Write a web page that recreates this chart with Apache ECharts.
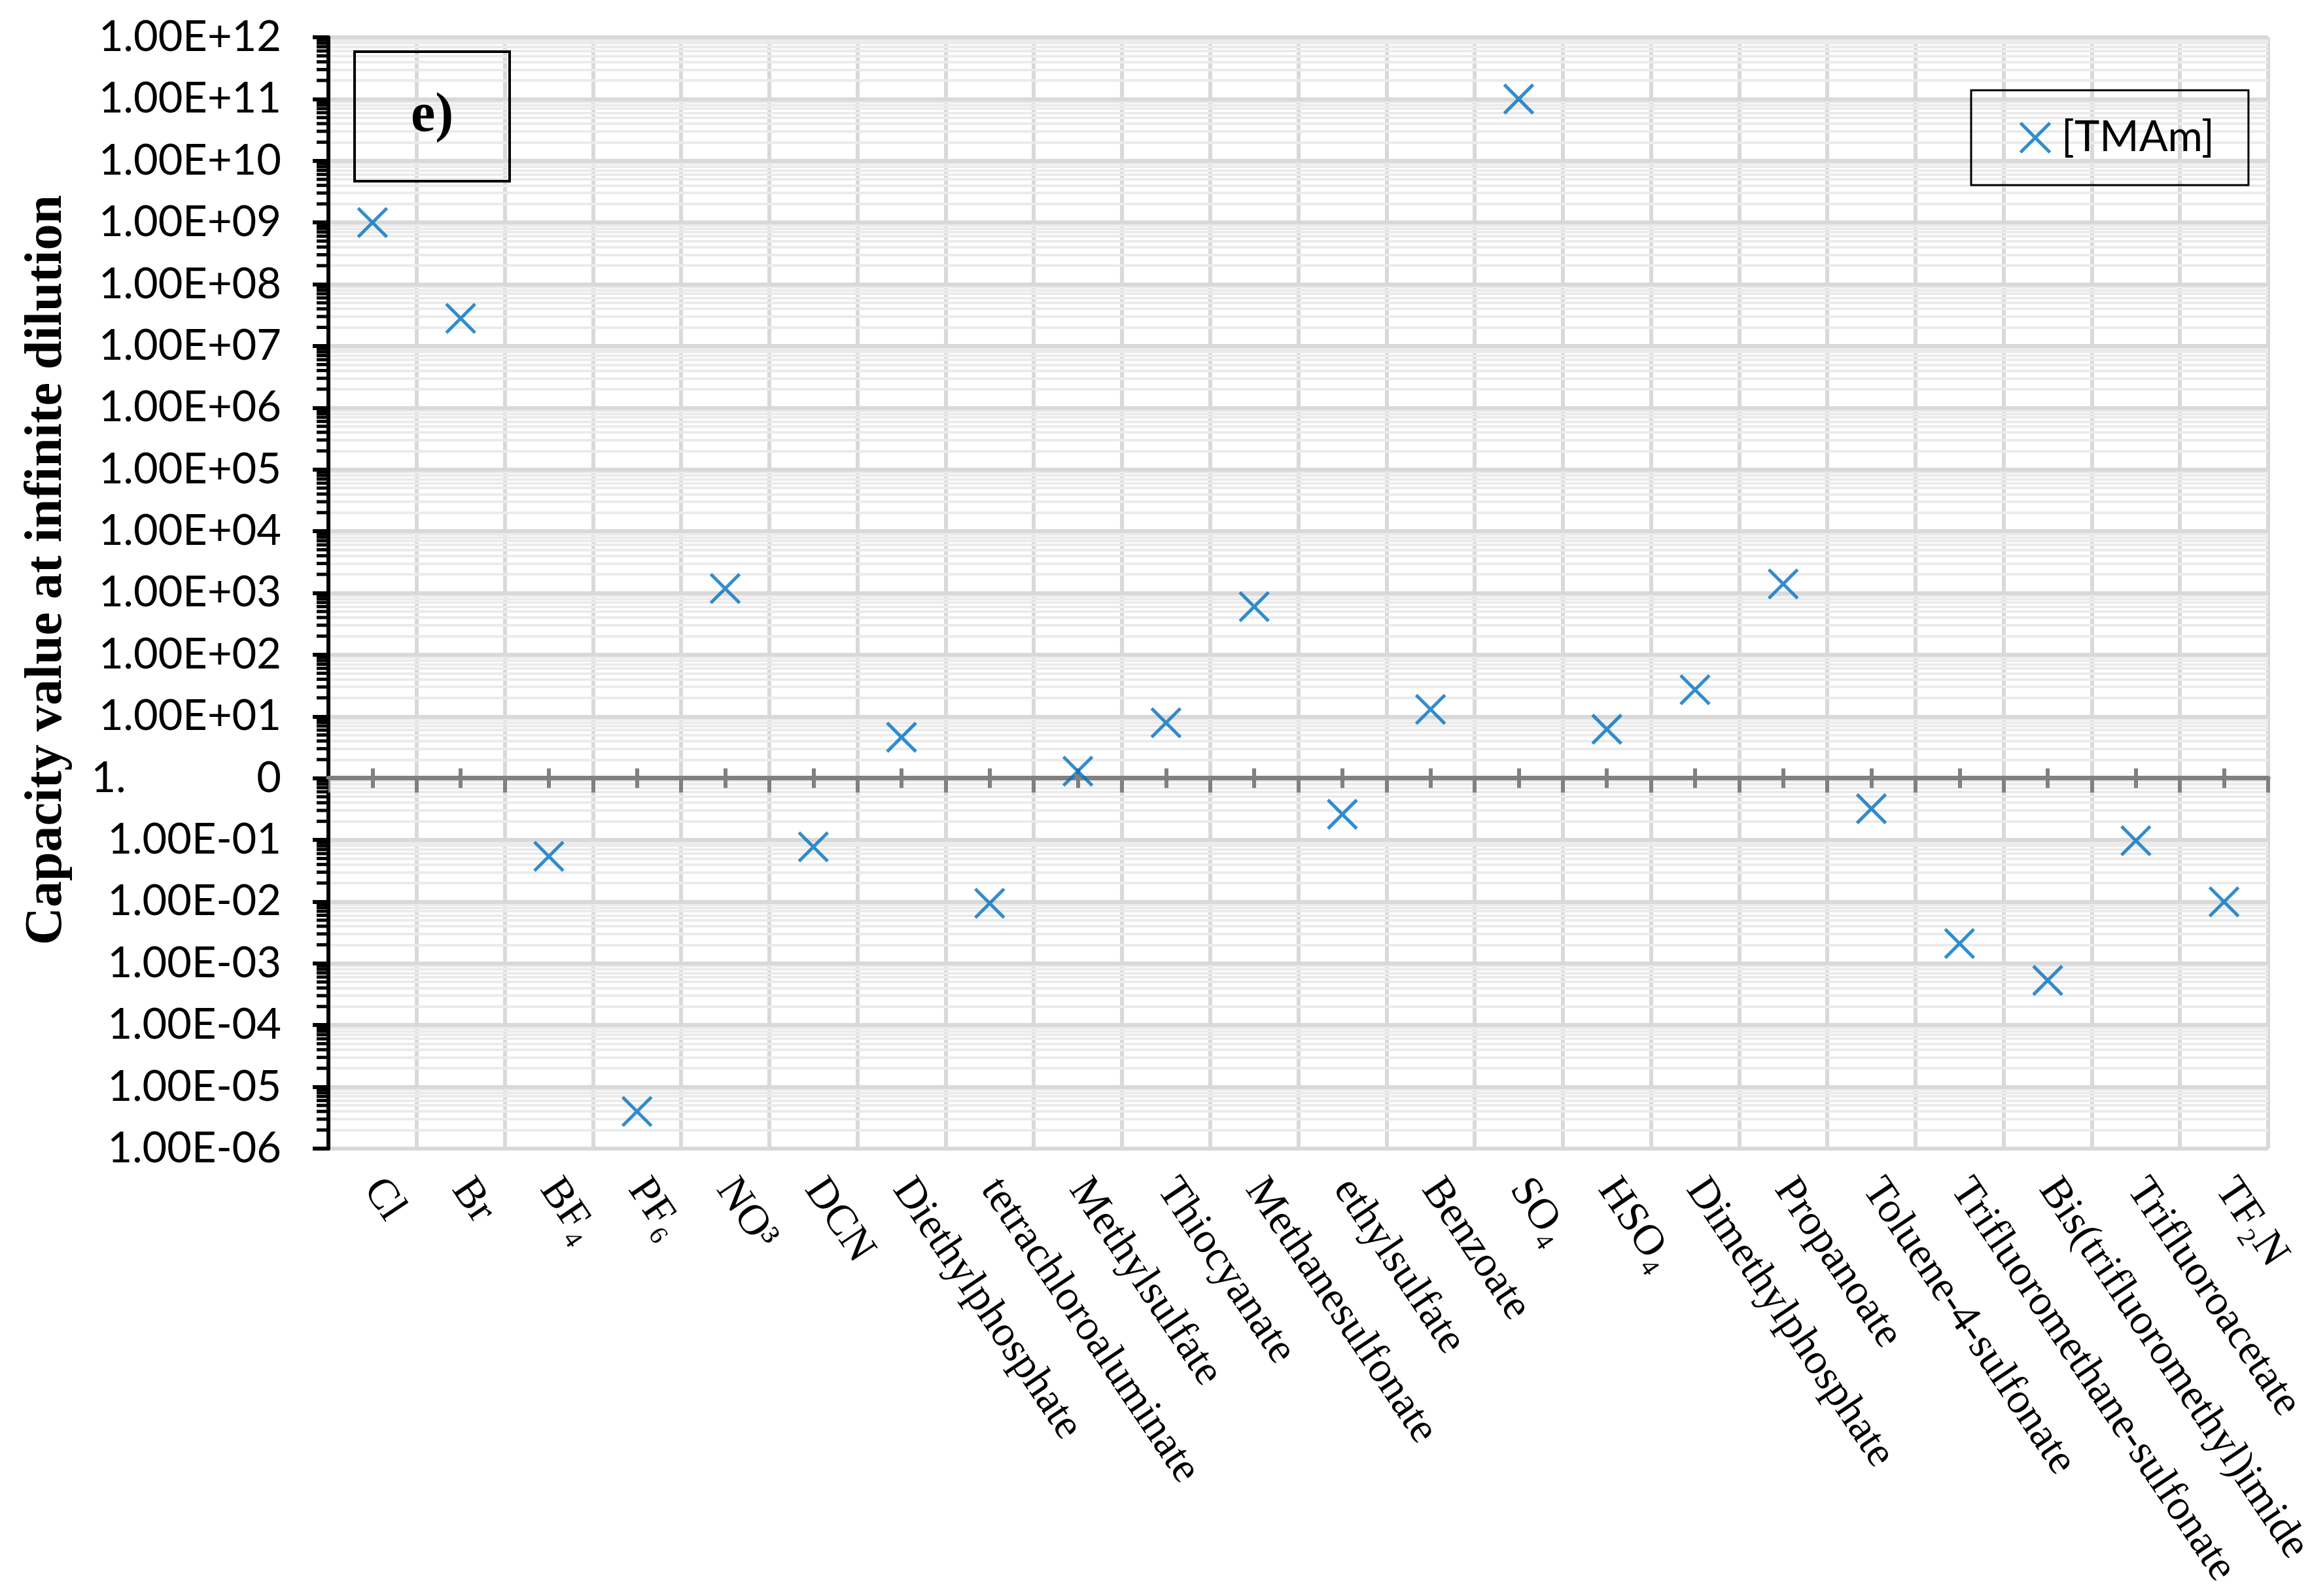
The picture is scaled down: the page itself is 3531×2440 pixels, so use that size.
<!DOCTYPE html>
<html><head><meta charset="utf-8">
<script src="https://cdn.jsdelivr.net/npm/echarts@6/dist/echarts.min.js"></script>
<style>html,body{margin:0;padding:0;background:#fff}#c{width:3531px;height:2440px}</style>
</head><body><div id="c"></div>
<script>
const categories = ['Cl','Br','BF₄','PF₆','NO³','DCN','Diethylphosphate','tetrachloroaluminate','Methylsulfate','Thiocyanate','Methanesulfonate','ethylsulfate','Benzoate','SO₄','HSO₄','Dimethylphosphate','Propanoate','Toluene-4-sulfonate','Trifluoromethane-sulfonate','Bis(trifluoromethyl)imide','Trifluoroacetate','TF₂N'];
const tmamValues = [1.0e9, 2.8e7, 0.054, 4.0e-6, 1180, 0.077, 4.6, 0.0094, 1.3, 7.9, 600, 0.26, 13, 1.0e11, 6.2, 27, 1400, 0.32, 0.0021, 0.00053, 0.097, 0.0099];
const seriesName = '[TMAm]';
const yTickLabels = ['1.00E-06','1.00E-05','1.00E-04','1.00E-03','1.00E-02','1.00E-01','1.            0','1.00E+01','1.00E+02','1.00E+03','1.00E+04','1.00E+05','1.00E+06','1.00E+07','1.00E+08','1.00E+09','1.00E+10','1.00E+11','1.00E+12'];
const yMin = 1e-6, yMax = 1e12, yCross = 1;
const minorMultipliers = [2,3,4,5,6,7,8,9];
const minorTickValues = [];
for (let e = -6; e < 12; e++) minorMultipliers.forEach(k => minorTickValues.push(k * Math.pow(10, e)));

const xPath = 'path://M0,0L10,10M10,0L0,10';
const blue = '#0070C0';
const W = 3531, H = 2440;
const G = {left: 502, right: 64, top: 57, bottom: 684};
const serif = 'Liberation Serif';
const sans = 'Lato';

const chart = echarts.init(document.getElementById('c'), null, {renderer: 'canvas'});

function crossAxis(extra) {
  return Object.assign({
    type: 'category', data: categories, position: 'bottom', boundaryGap: true,
    axisLabel: {show: false}, splitLine: {show: false}, z: 6
  }, extra);
}

function build(offset, minorTickGraphics) {
  return {
    backgroundColor: '#fff',
    animation: false,
    title: {
      text: 'e)', left: 542, top: 81, padding: [57, 86, 57, 86],
      borderColor: '#000', borderWidth: 4,
      textStyle: {fontFamily: serif, fontWeight: 'bold', fontSize: 84, color: '#000', lineHeight: 80}
    },
    legend: {
      data: [{name: seriesName, icon: xPath}],
      left: 3013, top: 138, itemWidth: 70, itemHeight: 45, symbolKeepAspect: true,
      borderColor: '#000', borderWidth: 3, padding: [40, 52, 40, 73],
      textStyle: {fontFamily: sans, fontSize: 65, color: '#000'},
      itemStyle: {color: blue, borderColor: blue, borderWidth: 5}
    },
    grid: Object.assign({outerBoundsMode: 'none', containLabel: false}, G),
    graphic: {elements: minorTickGraphics},
    xAxis: [
      {
        type: 'category', data: categories, position: 'bottom', boundaryGap: true,
        axisLine: {show: false, onZero: false}, axisTick: {show: false},
        splitLine: {show: true, interval: 0, lineStyle: {color: '#d9d9d9', width: 6}},
        axisLabel: {rotate: -56, margin: 52, interval: 0, fontFamily: serif, fontSize: 66, color: '#000'},
        name: 'Anion types', nameLocation: 'middle', nameGap: 528,
        nameTextStyle: {fontFamily: serif, fontWeight: 'bold', fontSize: 80, color: '#000'}
      },
      crossAxis({offset: offset, axisLine: {show: true, onZero: false, lineStyle: {color: '#808080', width: 7}},
        axisTick: {show: true, interval: 0, alignWithLabel: false, inside: false, length: 22, lineStyle: {color: '#808080', width: 6}}}),
      crossAxis({offset: offset, axisLine: {show: false, onZero: false},
        axisTick: {show: true, interval: 0, alignWithLabel: true, inside: true, length: 15, lineStyle: {color: '#808080', width: 6}}}),
      crossAxis({offset: offset, axisLine: {show: false, onZero: false},
        axisTick: {show: true, interval: 0, alignWithLabel: true, inside: false, length: 15, lineStyle: {color: '#808080', width: 6}}})
    ],
    yAxis: [
      {
        type: 'log', logBase: 10, min: yMin, max: yMax, interval: 1, position: 'left',
        axisLine: {show: true, onZero: false, lineStyle: {color: '#000', width: 6}},
        axisTick: {show: true, length: 24, lineStyle: {color: '#000', width: 6}},
        splitLine: {show: true, lineStyle: {color: '#d9d9d9', width: 6}},
        axisLabel: {margin: 72, fontFamily: sans, fontSize: 65, color: '#000',
          formatter: v => yTickLabels[Math.round(Math.log10(v)) + 6]},
        name: 'Capacity value at infinite dilution', nameLocation: 'middle', nameGap: 390,
        nameTextStyle: {fontFamily: serif, fontWeight: 'bold', fontSize: 80, color: '#000', padding: [0, 0, 0, 70]},
        z: 3
      },
      {
        type: 'log', logBase: 10, min: yMin, max: yMax, position: 'left',
        axisLine: {show: false, onZero: false}, axisLabel: {show: false},
        axisTick: {show: false, customValues: minorTickValues},
        splitLine: {show: true, lineStyle: {color: '#ebebeb', width: 4}},
        z: 2
      }
    ],
    series: [
      {
        name: seriesName, type: 'scatter', xAxisIndex: 0, yAxisIndex: 0,
        symbol: xPath, symbolSize: 44,
        itemStyle: {color: blue, borderColor: blue, borderWidth: 5},
        data: tmamValues, z: 8
      }
    ]
  };
}

chart.setOption(build(0, []));
const yPix = chart.convertToPixel({yAxisIndex: 0}, yCross);
const gridBottomPx = H - G.bottom;
const minorTickGraphics = minorTickValues.map(v => {
  const py = chart.convertToPixel({yAxisIndex: 0}, v);
  return {type: 'rect', z: 100, silent: true,
    shape: {x: G.left - 18, y: py - 2.5, width: 18, height: 5},
    style: {fill: '#000'}};
});
chart.setOption(build(-(gridBottomPx - yPix), minorTickGraphics));
</script></body></html>
